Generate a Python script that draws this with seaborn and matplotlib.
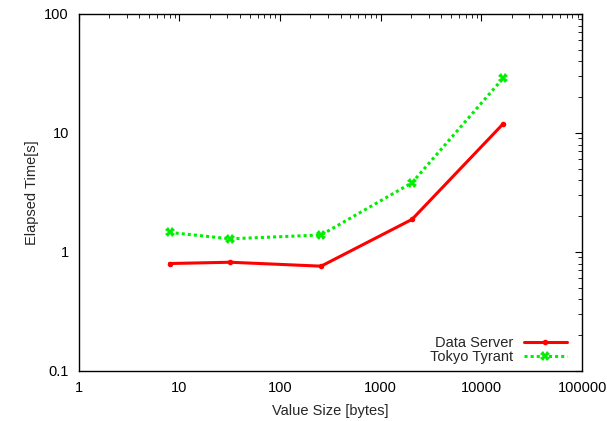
import matplotlib
matplotlib.use("Agg")
import matplotlib.pyplot as plt
import matplotlib.ticker as mticker
import pandas as pd
import seaborn as sns

# data
value_sizes = [8, 32, 256, 2048, 16384]
data_server = [0.80, 0.82, 0.76, 1.88, 11.9]
tokyo_tyrant = [1.46, 1.29, 1.39, 3.82, 28.8]

df = pd.DataFrame({"size": value_sizes, "ds": data_server, "tt": tokyo_tyrant})

sns.set_style("white")
plt.rcParams["font.family"] = ["Liberation Sans", "DejaVu Sans"]
plt.rcParams["font.size"] = 10.5

fig = plt.figure(figsize=(6.07, 4.21), dpi=100)
ax = fig.add_axes([0.1295, 0.1188, 0.8295, 0.848])

sns.lineplot(data=df, x="size", y="ds", ax=ax, color="#ff0000", linewidth=2.2,
             marker="o", markersize=4, markeredgewidth=0, label="Data Server")
sns.lineplot(data=df, x="size", y="tt", ax=ax, color="#00ee00", linewidth=2.2,
             linestyle=(0, (1, 1)), marker="X", markersize=6.5, markeredgewidth=0,
             label="Tokyo Tyrant")

ax.set_xscale("log")
ax.set_yscale("log")
ax.set_xlim(1, 100000)
ax.set_ylim(0.1, 100)

fmt = mticker.FuncFormatter(lambda v, p: f"{v:g}")
ax.xaxis.set_major_formatter(fmt)
ax.yaxis.set_major_formatter(fmt)
ax.xaxis.set_major_locator(mticker.LogLocator(base=10, numticks=10))
ax.yaxis.set_major_locator(mticker.LogLocator(base=10, numticks=10))
ax.xaxis.set_minor_locator(mticker.LogLocator(base=10, subs=range(2, 10), numticks=10))
ax.yaxis.set_minor_locator(mticker.LogLocator(base=10, subs=range(2, 10), numticks=10))
ax.xaxis.set_minor_formatter(mticker.NullFormatter())
ax.yaxis.set_minor_formatter(mticker.NullFormatter())

ax.tick_params(which="both", direction="in", top=True, right=True, color="black",
               labelsize=10.5, labelcolor="black")
ax.tick_params(which="major", length=5, width=0.8, pad=7)
ax.tick_params(which="minor", length=3, width=0.6)
for s in ax.spines.values():
    s.set_color("black")
    s.set_linewidth(1.0)

ax.set_xlabel("Value Size [bytes]", fontsize=10.5, labelpad=7)
ax.set_ylabel("Elapsed Time[s]", fontsize=10.5, labelpad=4)

ax.legend(loc="lower right", frameon=False, markerfirst=False, handlelength=3.0,
          fontsize=10.5, labelspacing=0.0, borderaxespad=0.1, handletextpad=0.7,
          bbox_to_anchor=(0.985, 0.0))

plt.savefig("out.png", dpi=100)
